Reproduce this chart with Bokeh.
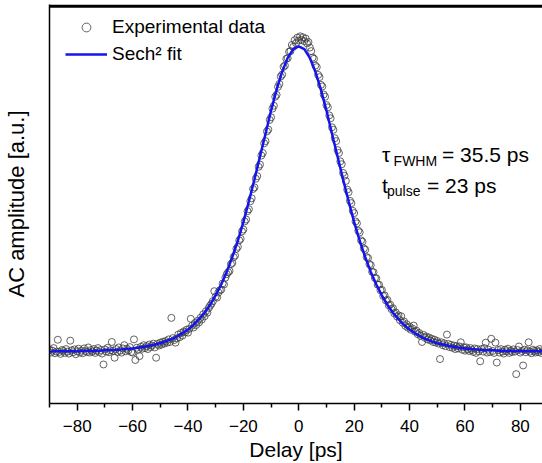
from bokeh.plotting import figure
from bokeh.models import (Range1d, Label, Legend, LegendItem, ColumnDataSource,
                          FixedTicker, LinearAxis, Span, BoxAnnotation)
from bokeh.embed import file_html
from bokeh.resources import INLINE

# ---------------- data ----------------
DELAY = [
    -90.0, -89.5, -89.0, -88.5, -88.0, -87.5, -87.0, -86.5, -86.0, -85.5,
    -85.0, -84.5, -84.0, -83.5, -83.0, -82.5, -82.0, -81.5, -81.0, -80.5,
    -80.0, -79.5, -79.0, -78.5, -78.0, -77.5, -77.0, -76.5, -76.0, -75.5,
    -75.0, -74.5, -74.0, -73.5, -73.0, -72.5, -72.0, -71.5, -71.0, -70.5,
    -70.0, -69.5, -69.0, -68.5, -68.0, -67.5, -67.0, -66.5, -66.0, -65.5,
    -65.0, -64.5, -64.0, -63.5, -63.0, -62.5, -62.0, -61.5, -61.0, -60.5,
    -60.0, -59.5, -59.0, -58.5, -58.0, -57.5, -57.0, -56.5, -56.0, -55.5,
    -55.0, -54.5, -54.0, -53.5, -53.0, -52.5, -52.0, -51.5, -51.0, -50.5,
    -50.0, -49.5, -49.0, -48.5, -48.0, -47.5, -47.0, -46.5, -46.0, -45.5,
    -45.0, -44.5, -44.0, -43.5, -43.0, -42.5, -42.0, -41.5, -41.0, -40.5,
    -40.0, -39.5, -39.0, -38.5, -38.0, -37.5, -37.0, -36.5, -36.0, -35.5,
    -35.0, -34.5, -34.0, -33.5, -33.0, -32.5, -32.0, -31.5, -31.0, -30.5,
    -30.0, -29.5, -29.0, -28.5, -28.0, -27.5, -27.0, -26.5, -26.0, -25.5,
    -25.0, -24.5, -24.0, -23.5, -23.0, -22.5, -22.0, -21.5, -21.0, -20.5,
    -20.0, -19.5, -19.0, -18.5, -18.0, -17.5, -17.0, -16.5, -16.0, -15.5,
    -15.0, -14.5, -14.0, -13.5, -13.0, -12.5, -12.0, -11.5, -11.0, -10.5,
    -10.0, -9.5, -9.0, -8.5, -8.0, -7.5, -7.0, -6.5, -6.0, -5.5,
    -5.0, -4.5, -4.0, -3.5, -3.0, -2.5, -2.0, -1.5, -1.0, -0.5,
    0.0, 0.5, 1.0, 1.5, 2.0, 2.5, 3.0, 3.5, 4.0, 4.5,
    5.0, 5.5, 6.0, 6.5, 7.0, 7.5, 8.0, 8.5, 9.0, 9.5,
    10.0, 10.5, 11.0, 11.5, 12.0, 12.5, 13.0, 13.5, 14.0, 14.5,
    15.0, 15.5, 16.0, 16.5, 17.0, 17.5, 18.0, 18.5, 19.0, 19.5,
    20.0, 20.5, 21.0, 21.5, 22.0, 22.5, 23.0, 23.5, 24.0, 24.5,
    25.0, 25.5, 26.0, 26.5, 27.0, 27.5, 28.0, 28.5, 29.0, 29.5,
    30.0, 30.5, 31.0, 31.5, 32.0, 32.5, 33.0, 33.5, 34.0, 34.5,
    35.0, 35.5, 36.0, 36.5, 37.0, 37.5, 38.0, 38.5, 39.0, 39.5,
    40.0, 40.5, 41.0, 41.5, 42.0, 42.5, 43.0, 43.5, 44.0, 44.5,
    45.0, 45.5, 46.0, 46.5, 47.0, 47.5, 48.0, 48.5, 49.0, 49.5,
    50.0, 50.5, 51.0, 51.5, 52.0, 52.5, 53.0, 53.5, 54.0, 54.5,
    55.0, 55.5, 56.0, 56.5, 57.0, 57.5, 58.0, 58.5, 59.0, 59.5,
    60.0, 60.5, 61.0, 61.5, 62.0, 62.5, 63.0, 63.5, 64.0, 64.5,
    65.0, 65.5, 66.0, 66.5, 67.0, 67.5, 68.0, 68.5, 69.0, 69.5,
    70.0, 70.5, 71.0, 71.5, 72.0, 72.5, 73.0, 73.5, 74.0, 74.5,
    75.0, 75.5, 76.0, 76.5, 77.0, 77.5, 78.0, 78.5, 79.0, 79.5,
    80.0, 80.5, 81.0, 81.5, 82.0, 82.5, 83.0, 83.5, 84.0, 84.5,
    85.0, 85.5, 86.0, 86.5, 87.0, 87.5, 88.0, 88.5, 89.0, 89.5,
    90.0,
]

AMPLITUDE = [
    0.056, 0.047, 0.053, 0.061, 0.045, 0.050, 0.087, 0.049, 0.043, 0.055,
    0.052, 0.046, 0.058, 0.050, 0.044, 0.084, 0.054, 0.048, 0.057, 0.042,
    0.051, 0.059, 0.047, 0.053, 0.045, 0.060, 0.052, 0.049, 0.063, 0.047,
    0.055, 0.050, 0.058, 0.046, 0.053, 0.061, 0.049, 0.055, 0.044, 0.010,
    0.057, 0.050, 0.062, 0.048, 0.054, 0.080, 0.052, 0.031, 0.058, 0.049,
    0.063, 0.053, 0.047, 0.060, 0.070, 0.051, 0.059, 0.054, 0.064, 0.049,
    0.047, 0.088, 0.024, 0.062, 0.056, 0.036, 0.065, 0.059, 0.070, 0.061,
    0.067, 0.058, 0.072, 0.064, 0.069, 0.075, 0.063, 0.031, 0.074, 0.069,
    0.078, 0.072, 0.081, 0.075, 0.083, 0.078, 0.088, 0.080, 0.155, 0.092,
    0.086, 0.078, 0.091, 0.103, 0.095, 0.108, 0.100, 0.113, 0.110, 0.118,
    0.109, 0.121, 0.152, 0.131, 0.125, 0.139, 0.133, 0.146, 0.141, 0.155,
    0.150, 0.166, 0.160, 0.176, 0.171, 0.186, 0.193, 0.199, 0.207, 0.238,
    0.221, 0.218, 0.234, 0.241, 0.243, 0.262, 0.259, 0.280, 0.291, 0.297,
    0.301, 0.322, 0.326, 0.344, 0.349, 0.370, 0.376, 0.396, 0.401, 0.424,
    0.430, 0.455, 0.461, 0.487, 0.493, 0.518, 0.527, 0.556, 0.561, 0.588,
    0.596, 0.625, 0.632, 0.660, 0.668, 0.698, 0.705, 0.735, 0.741, 0.771,
    0.779, 0.806, 0.815, 0.843, 0.849, 0.874, 0.883, 0.906, 0.912, 0.936,
    0.940, 0.961, 0.963, 0.983, 0.985, 1.004, 0.998, 1.019, 1.010, 1.027,
    1.018, 1.031, 1.020, 1.028, 1.016, 1.024, 1.009, 1.013, 0.996, 0.985,
    0.965, 0.961, 0.940, 0.935, 0.911, 0.904, 0.880, 0.875, 0.850, 0.843,
    0.817, 0.810, 0.785, 0.776, 0.748, 0.740, 0.714, 0.705, 0.677, 0.668,
    0.642, 0.633, 0.606, 0.597, 0.581, 0.554, 0.546, 0.519, 0.512, 0.488,
    0.481, 0.455, 0.449, 0.426, 0.421, 0.396, 0.392, 0.371, 0.367, 0.344,
    0.341, 0.322, 0.319, 0.298, 0.297, 0.279, 0.278, 0.258, 0.258, 0.241,
    0.242, 0.223, 0.225, 0.209, 0.211, 0.194, 0.196, 0.182, 0.185, 0.169,
    0.172, 0.159, 0.163, 0.148, 0.160, 0.140, 0.144, 0.130, 0.135, 0.124,
    0.128, 0.118, 0.122, 0.131, 0.112, 0.115, 0.104, 0.108, 0.099, 0.080,
    0.102, 0.093, 0.097, 0.088, 0.094, 0.085, 0.090, 0.080, 0.087, 0.078,
    0.083, 0.075, 0.027, 0.079, 0.070, 0.076, 0.067, 0.103, 0.074, 0.064,
    0.071, 0.062, 0.069, 0.058, 0.067, 0.060, 0.066, 0.079, 0.056, 0.064,
    0.053, 0.063, 0.057, 0.052, 0.061, 0.055, 0.049, 0.060, 0.046, 0.058,
    0.051, 0.020, 0.058, 0.050, 0.061, 0.078, 0.047, 0.056, 0.049, 0.090,
    0.052, 0.046, 0.078, 0.016, 0.055, 0.047, 0.058, 0.050, 0.044, 0.056,
    0.051, 0.059, 0.046, 0.053, 0.049, 0.057, 0.050, -0.020, 0.055, 0.066,
    0.047, 0.052, 0.007, 0.056, 0.048, 0.054, 0.079, 0.050, 0.045, 0.056,
    0.052, 0.047, 0.054, 0.049, 0.058, 0.046, 0.052, 0.050, 0.055, 0.048,
    0.053,
]

FIT_DELAY = [
    -90, -88, -86, -84, -82, -80, -78, -76, -74, -72, -70, -68, -66, -64,
    -62, -60, -58, -56, -54, -52, -50, -48, -46, -44, -42, -40, -38, -36,
    -34, -32, -30, -28, -26, -24, -22, -20, -18, -16, -14, -12, -10, -8,
    -6, -4, -2, 0, 2, 4, 6, 8, 10, 12, 14, 16, 18, 20, 22, 24, 26, 28, 30,
    32, 34, 36, 38, 40, 42, 44, 46, 48, 50, 52, 54, 56, 58, 60, 62, 64, 66,
    68, 70, 72, 74, 76, 78, 80, 82, 84, 86, 88, 90,
]

FIT_AMPLITUDE = [
    0.050, 0.051, 0.051, 0.051, 0.051, 0.051, 0.052, 0.052, 0.052, 0.053,
    0.054, 0.054, 0.055, 0.057, 0.058, 0.060, 0.062, 0.065, 0.068, 0.072,
    0.076, 0.082, 0.089, 0.097, 0.107, 0.119, 0.133, 0.151, 0.171, 0.196,
    0.225, 0.259, 0.298, 0.344, 0.395, 0.453, 0.518, 0.586, 0.657, 0.728,
    0.800, 0.865, 0.921, 0.964, 0.991, 1.000, 0.991, 0.964, 0.921, 0.865,
    0.800, 0.728, 0.657, 0.586, 0.518, 0.453, 0.395, 0.344, 0.298, 0.259,
    0.225, 0.196, 0.171, 0.151, 0.133, 0.119, 0.107, 0.097, 0.089, 0.082,
    0.076, 0.072, 0.068, 0.065, 0.062, 0.060, 0.058, 0.057, 0.055, 0.054,
    0.054, 0.053, 0.052, 0.052, 0.052, 0.051, 0.051, 0.051, 0.051, 0.051,
    0.050,
]

X_TICKS = [-80, -60, -40, -20, 0, 20, 40, 60, 80]
X_MINOR_TICKS = [-90, -70, -50, -30, -10, 10, 30, 50, 70, 90]

SERIES_LABELS = ["Experimental data", "Sech\u00b2 fit"]
X_LABEL = "Delay [ps]"
Y_LABEL = "AC amplitude [a.u.]"

FONT = "Liberation Sans"
Y_TOP = 1.13

# ---------------- figure ----------------
p = figure(width=542, height=463,
           x_range=Range1d(-90, 88), y_range=Range1d(-0.1114, Y_TOP),
           output_backend="svg", toolbar_location=None,
           min_border_left=49, min_border_right=0,
           min_border_top=4, min_border_bottom=59,
           x_axis_location=None, y_axis_location=None)
p.outline_line_color = None
p.xgrid.visible = False
p.ygrid.visible = False
p.background_fill_color = "white"
p.border_fill_color = "white"

# bottom axis
xaxis = LinearAxis(ticker=FixedTicker(ticks=X_TICKS, minor_ticks=X_MINOR_TICKS))
xaxis.axis_label = X_LABEL
xaxis.axis_line_color = "black"
xaxis.axis_line_width = 1.5
xaxis.major_tick_line_color = "black"
xaxis.major_tick_line_width = 1.5
xaxis.major_tick_in = 0
xaxis.major_tick_out = 7
xaxis.minor_tick_line_color = "black"
xaxis.minor_tick_line_width = 1.5
xaxis.minor_tick_in = 0
xaxis.minor_tick_out = 4
xaxis.major_label_standoff = 9
xaxis.major_label_text_font = FONT
xaxis.major_label_text_font_size = "17px"
xaxis.major_label_text_color = "black"
xaxis.axis_label_text_font = FONT
xaxis.axis_label_text_font_size = "21px"
xaxis.axis_label_text_font_style = "normal"
xaxis.axis_label_text_color = "black"
xaxis.axis_label_standoff = 3
p.add_layout(xaxis, "below")

# left axis (no ticks)
yaxis = LinearAxis(ticker=FixedTicker(ticks=[]))
yaxis.axis_label = Y_LABEL
yaxis.axis_line_color = "black"
yaxis.axis_line_width = 1.5
yaxis.major_tick_line_color = None
yaxis.minor_tick_line_color = None
yaxis.major_tick_in = 0
yaxis.major_tick_out = 0
yaxis.major_label_standoff = 0
yaxis.axis_label_text_font = FONT
yaxis.axis_label_text_font_size = "22px"
yaxis.axis_label_text_font_style = "normal"
yaxis.axis_label_text_color = "black"
yaxis.axis_label_standoff = 21
p.add_layout(yaxis, "left")

# top frame line
p.add_layout(Span(location=Y_TOP - 0.006, dimension="width",
                  line_color="black", line_width=2.5))
p.add_layout(BoxAnnotation(top=Y_TOP, bottom=Y_TOP - 0.006,
                           fill_color="black", fill_alpha=1.0,
                           line_color=None))

# ---------------- data ----------------
src = ColumnDataSource(dict(delay=DELAY, amp=AMPLITUDE))
fit_src = ColumnDataSource(dict(delay=FIT_DELAY, amp=FIT_AMPLITUDE))

sc = p.scatter(x="delay", y="amp", source=src, marker="circle", size=7,
               fill_color=None, line_color="#3c3c3c", line_width=0.8)
ln = p.line(x="delay", y="amp", source=fit_src, line_color="#1414f0",
            line_width=2.5)

legend = Legend(items=[LegendItem(label=SERIES_LABELS[0], renderers=[sc]),
                       LegendItem(label=SERIES_LABELS[1], renderers=[ln])],
                location=(16, 338))
legend.glyph_width = 42
legend.glyph_height = 22
legend.label_height = 22
legend.label_standoff = 5
legend.spacing = 5
legend.padding = 0
legend.margin = 0
legend.border_line_color = None
legend.background_fill_alpha = 0
legend.label_text_font = FONT
legend.label_text_font_size = "19px"
legend.label_text_color = "black"
p.add_layout(legend)

# ---------------- annotation ----------------
def lab(x, y, text, size):
    p.add_layout(Label(x=x, y=y, text=text, text_font=FONT,
                       text_font_size=size, text_color="black",
                       text_align="left", text_baseline="alphabetic"))

lab(30.05, 0.662, "\u03c4", "21px")
lab(34.24, 0.642, "FWHM", "14px")
lab(51.72, 0.662, "= 35.5 ps", "21px")
lab(30.05, 0.567, "t", "21px")
lab(31.85, 0.550, "pulse", "14px")
lab(46.30, 0.567, "= 23 ps", "21px")

open("out.html", "w").write(file_html(p, INLINE))
